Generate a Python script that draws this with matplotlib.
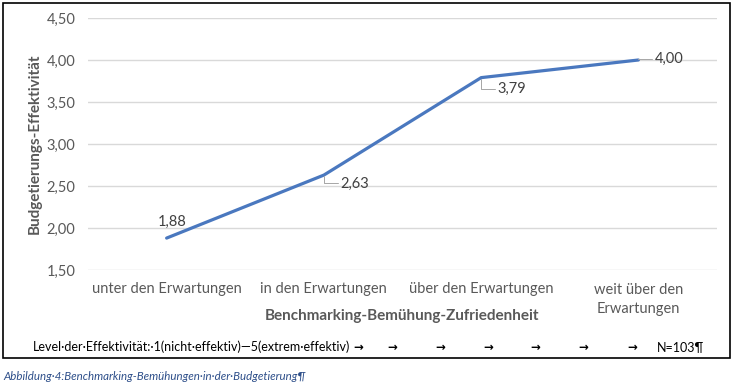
import matplotlib.pyplot as plt
from matplotlib.patches import Rectangle

# --- Daten ---
kategorien = ["unter den Erwartungen", "in den Erwartungen",
              "über den Erwartungen", "weit über den\nErwartungen"]
werte = [1.88, 2.63, 3.79, 4.00]
y_ticks = [1.5, 2.0, 2.5, 3.0, 3.5, 4.0, 4.5]

plt.rcParams['font.family'] = ['Lato', 'DejaVu Sans']
grau = '#595959'
blau = '#4a78bf'

fig = plt.figure(figsize=(7.35, 3.84), dpi=100)
ax = fig.add_axes([88 / 735, 1 - 270 / 384, 629 / 735, 252 / 384])

x = list(range(len(kategorien)))
ax.plot(x, werte, color=blau, lw=2.3, solid_capstyle='round')
ax.set_xlim(-0.5, len(kategorien) - 0.5)
ax.set_ylim(1.5, 4.5)
ax.set_yticks(y_ticks)
ax.set_yticklabels([f"{v:.2f}".replace('.', ',') for v in y_ticks])
ax.set_xticks(x)
ax.set_xticklabels(kategorien)
for t in ax.get_xticklabels():
    t.set_linespacing(1.5)
ax.tick_params(axis='both', length=0, labelsize=10.5, labelcolor=grau)
ax.tick_params(axis='x', pad=9)
ax.tick_params(axis='y', pad=9)
ax.grid(axis='y', color='#d9d9d9', lw=1)
ax.set_axisbelow(True)
for s in ax.spines.values():
    s.set_visible(False)

# Achsentitel (Excel-Stil: x-Titel ragt neben die zweizeilige Beschriftung)
ax.text(0.5, (270 - 316) / 252, "Benchmarking-Bemühung-Zufriedenheit",
        transform=ax.transAxes, fontsize=11, fontweight='bold', color=grau,
        ha='center', va='center')
ax.text((35 - 88) / 629, 0.5, "Budgetierungs-Effektivität", rotation=90,
        transform=ax.transAxes, fontsize=11, fontweight='bold', color=grau,
        ha='center', va='center')

# Datenbeschriftungen
lbl = [f"{v:.2f}".replace('.', ',') for v in werte]
ax.annotate(lbl[0], (x[0], werte[0]), xytext=(4, 12), textcoords='offset points',
            ha='center', va='center', fontsize=10.5, color='#404040')
offs = [(None), (12, -6), (12, -8), (12, 1)]
for i in range(1, len(werte)):
    ax.annotate(lbl[i], (x[i], werte[i]), xytext=offs[i], textcoords='offset points',
                ha='left', va='center', fontsize=10.5, color='#404040',
                arrowprops=dict(arrowstyle='-', color='#a6a6a6', lw=0.7,
                                connectionstyle='angle,angleA=0,angleB=90,rad=0',
                                shrinkA=0, shrinkB=1))

# Rahmen
fig.patches.append(Rectangle((3 / 735, 1 - 358 / 384), 727 / 735, 355 / 384,
                             transform=fig.transFigure, fill=False,
                             edgecolor='black', lw=1.2))

# Fußzeile mit Formatierungszeichen
yl = 1 - 347 / 384
fig.text(33 / 735, yl, "Level·der·Effektivität:·1(nicht·effektiv)—5(extrem·effektiv)",
         fontsize=9, color='black', va='center')
for px in [358, 392, 440, 488, 535, 583, 632]:
    fig.text(px / 735, yl, "→", fontsize=8.5, fontweight='bold', color='black',
             va='center', ha='center', family='DejaVu Sans')
fig.text(657 / 735, yl, "N=103¶", fontsize=9, color='black', va='center')

fig.text(3 / 735, 1 - 376 / 384, "Abbildung·4:Benchmarking-Bemühungen·in·der·Budgetierung¶",
         fontsize=8.3, style='italic', color='#2e4f8a', va='center')

fig.savefig("out.png", dpi=100)
